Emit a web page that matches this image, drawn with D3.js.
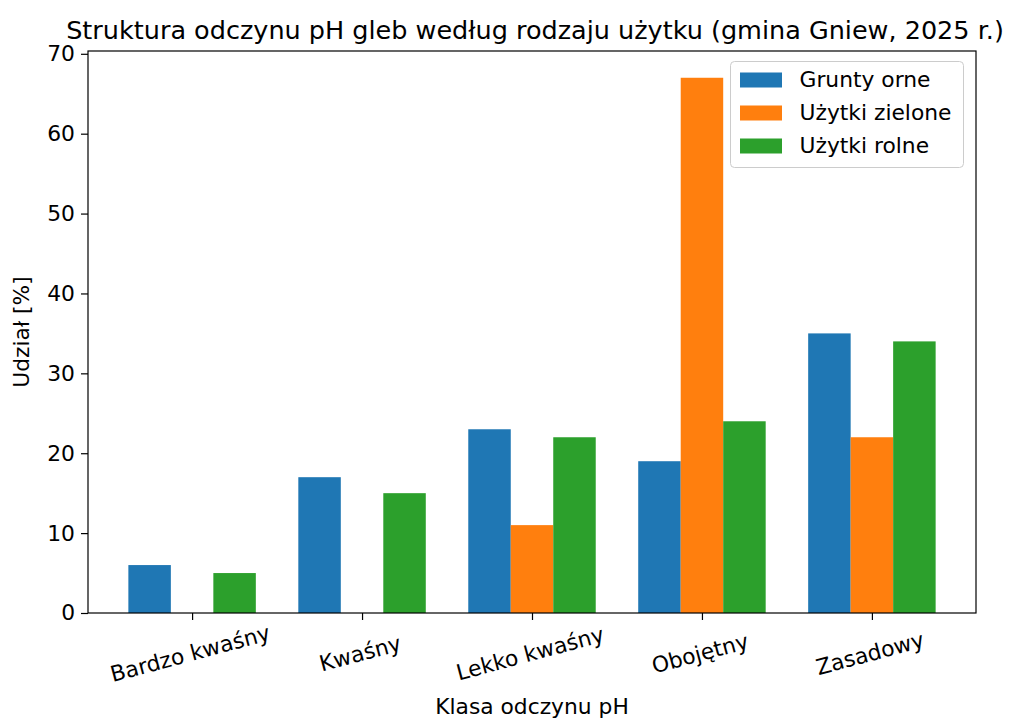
<!DOCTYPE html>
<html><head><meta charset="utf-8">
<script src="https://cdn.jsdelivr.net/npm/d3@7"></script>
<style>body{margin:0;background:#fff}svg{font-family:"DejaVu Sans",sans-serif}</style>
</head><body><svg id="c" width="1009" height="722"></svg>
<script>
const categories = ["Bardzo kwaśny","Kwaśny","Lekko kwaśny","Obojętny","Zasadowy"];
const seriesNames = ["Grunty orne","Użytki zielone","Użytki rolne"];
const gruntyOrne = [6,17,23,19,35];
const uzytkiZielone = [0,0,11,67,22];
const uzytkiRolne = [5,15,22,24,34];
const yTicks = [0,10,20,30,40,50,60,70];
const colors = ["#1f77b4","#ff7f0e","#2ca02c"];
const series = [gruntyOrne, uzytkiZielone, uzytkiRolne];

const svg = d3.select("#c");
const L=88, R=976, T=51, B=613;
const x = d3.scaleLinear().domain([-0.6125, categories.length-1+0.6125]).range([L,R]);
const y = d3.scaleLinear().domain([0,70.35]).range([B,T]);
const bw = 0.25;
const FS = 21.8;

series.forEach((s,si)=>{
  svg.append("g").selectAll("rect").data(s).join("rect")
    .attr("x",(d,i)=>x(i+(si-1)*bw-bw/2))
    .attr("width",(d,i)=>x(i+bw)-x(i))
    .attr("y",d=>y(d))
    .attr("height",d=>y(0)-y(d))
    .attr("fill",colors[si]);
});

// frame
svg.append("rect").attr("x",L).attr("y",T).attr("width",R-L).attr("height",B-T)
  .attr("fill","none").attr("stroke","#000").attr("stroke-width",1.2);

// y axis
const yg = svg.append("g").attr("transform",`translate(${L},0)`)
  .call(d3.axisLeft(y).tickValues(yTicks).tickSize(7).tickPadding(6));
yg.select(".domain").remove();
yg.selectAll("text").attr("font-size",FS).attr("fill","#000").attr("font-family","DejaVu Sans");
yg.selectAll("line").attr("stroke","#000").attr("stroke-width",1.2);

// x axis
const xg = svg.append("g").attr("transform",`translate(0,${B})`)
  .call(d3.axisBottom(x).tickValues(d3.range(categories.length)).tickFormat(i=>categories[i]).tickSize(7));
xg.select(".domain").remove();
xg.selectAll("line").attr("stroke","#000").attr("stroke-width",1.2);
xg.selectAll("text").attr("font-size",FS).attr("fill","#000").attr("font-family","DejaVu Sans")
  .attr("text-anchor","middle").attr("dy",null).attr("y",null)
  .attr("transform","translate(-2,42) rotate(-15)").attr("dominant-baseline","middle");

// labels
svg.append("text").attr("x",(L+R)/2).attr("y",714).attr("text-anchor","middle")
  .attr("font-size",FS).text("Klasa odczynu pH");
svg.append("text").attr("transform",`translate(29,${(T+B)/2}) rotate(-90)`).attr("text-anchor","middle")
  .attr("font-size",FS).text("Udział [%]");
svg.append("text").attr("x",(L+R)/2+3).attr("y",39).attr("text-anchor","middle")
  .attr("font-size",25.5).text("Struktura odczynu pH gleb według rodzaju użytku (gmina Gniew, 2025 r.)");

// legend
const lg = svg.append("g").attr("transform","translate(730.5,61.5)");
lg.append("rect").attr("width",233).attr("height",106).attr("rx",4)
  .attr("fill","#fff").attr("fill-opacity",0.8).attr("stroke","#ccc");
seriesNames.forEach((n,i)=>{
  lg.append("rect").attr("x",9.5).attr("y",11+i*33).attr("width",42).attr("height",15).attr("fill",colors[i]);
  lg.append("text").attr("x",69).attr("y",19+i*33).attr("dominant-baseline","middle")
    .attr("font-size",FS).text(n);
});
</script></body></html>
